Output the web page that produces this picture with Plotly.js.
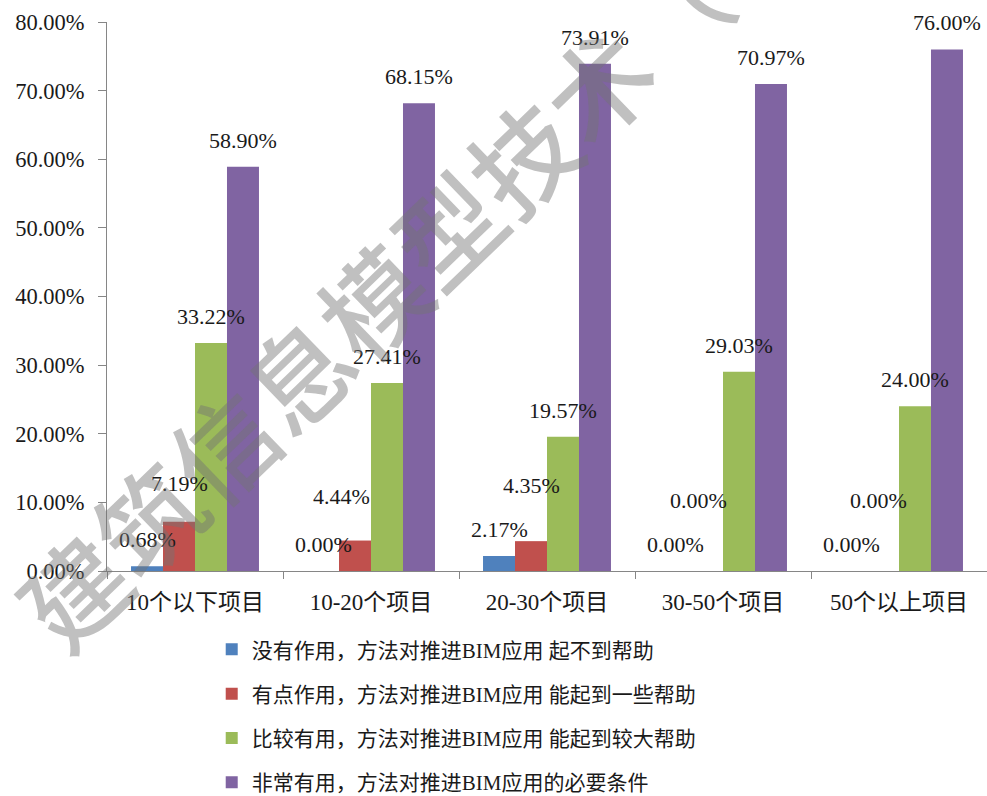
<!DOCTYPE html>
<html>
<head>
<meta charset="utf-8">
<script src="https://cdn.plot.ly/plotly-3.0.1.min.js"></script>
<style>html,body{margin:0;padding:0;background:#fff;}#chart{width:987px;height:796px;}</style>
</head>
<body>
<div id="chart"></div>
<script>
// ---- data ----
const categories = ['10个以下项目', '10-20个项目', '20-30个项目', '30-50个项目', '50个以上项目'];
const seriesNames = [
  '没有作用，方法对推进BIM应用 起不到帮助',
  '有点作用，方法对推进BIM应用 能起到一些帮助',
  '比较有用，方法对推进BIM应用 能起到较大帮助',
  '非常有用，方法对推进BIM应用的必要条件'
];
const noHelp    = [0.68, 0.00, 2.17, 0.00, 0.00];
const someHelp  = [7.19, 4.44, 4.35, 0.00, 0.00];
const muchHelp  = [33.22, 27.41, 19.57, 29.03, 24.00];
const essential = [58.90, 68.15, 73.91, 70.97, 76.00];
const yTickVals = [0, 10, 20, 30, 40, 50, 60, 70, 80];
const yTickText = ['0.00%', '10.00%', '20.00%', '30.00%', '40.00%', '50.00%', '60.00%', '70.00%', '80.00%'];
const watermarkText = '建筑信息模型技术（';

// ---- styles ----
const colors = ['#4F81BD', '#C0504D', '#9BBB59', '#8064A2'];
const bargap = 0.273;
const baseLabelShift = 12;
// extra label nudges (px) as placed in the original chart, per series per category
const labelYNudge = [[0,0,0,0,0],[12,18,29,44,44],[0,0,0,0,0],[0,0,0,0,0]];
const labelXNudge = [[0,0,0,0,0],[0,-14,0,-9,-5],[0,0,0,0,0],[0,0,0,0,0]];
const latinCjk = '"Liberation Serif", "Times New Roman", "Noto Sans CJK SC", serif';

const allSeries = [noHelp, someHelp, muchHelp, essential];

const traces = allSeries.map((vals, i) => ({
  type: 'bar',
  name: seriesNames[i],
  legendgroup: 'g' + i,
  x: categories,
  y: vals,
  marker: {color: colors[i]},
  hoverinfo: 'skip'
}));

const nSer = allSeries.length;
const barW = (1 - bargap) / nSer;
const annotations = [];
allSeries.forEach((vals, i) => {
  vals.forEach((v, j) => {
    annotations.push({
      xref: 'x', yref: 'y',
      x: j - (1 - bargap) / 2 + barW * (i + 0.5),
      y: v,
      text: v.toFixed(2) + '%',
      showarrow: false,
      xanchor: 'center', yanchor: 'bottom',
      yshift: baseLabelShift + labelYNudge[i][j],
      xshift: labelXNudge[i][j],
      font: {family: latinCjk, size: 22, color: '#1a1a1a'}
    });
  });
});
annotations.push({
  xref: 'paper', yref: 'paper',
  x: 0.300, y: 0.494,
  xanchor: 'center', yanchor: 'middle',
  text: watermarkText,
  textangle: -44,
  showarrow: false,
  font: {family: '"Noto Sans CJK SC", sans-serif', size: 104, weight: 500, color: 'rgba(115,115,115,0.45)'}
});

const layout = {
  width: 987, height: 796,
  margin: {l: 107, r: 0, t: 22, b: 225, pad: 0, autoexpand: false},
  paper_bgcolor: '#ffffff', plot_bgcolor: '#ffffff',
  barmode: 'group',
  bargap: bargap,
  bargroupgap: 0,
  showlegend: true,
  legend: {
    orientation: 'v',
    x: 0.119, xanchor: 'left',
    y: -0.106, yanchor: 'top',
    traceorder: 'grouped',
    tracegroupgap: 14,
    font: {family: latinCjk, size: 21, color: '#1a1a1a'},
    bgcolor: 'rgba(0,0,0,0)'
  },
  xaxis: {
    type: 'category',
    showgrid: false,
    showline: true, linecolor: '#868686', linewidth: 1,
    ticks: 'outside', tickson: 'boundaries', ticklen: 7, tickcolor: '#868686',
    ticklabelstandoff: 10,
    tickfont: {family: latinCjk, size: 23, color: '#1a1a1a'},
    zeroline: false, fixedrange: true
  },
  yaxis: {
    range: [0, 80],
    tickmode: 'array',
    tickvals: yTickVals,
    ticktext: yTickText,
    showgrid: false, zeroline: false,
    showline: true, linecolor: '#868686', linewidth: 1,
    ticks: 'outside', ticklen: 8, tickcolor: '#868686',
    ticklabelstandoff: 9,
    tickfont: {family: latinCjk, size: 22.5, color: '#1a1a1a'},
    fixedrange: true
  },
  annotations: annotations
};

Plotly.newPlot('chart', traces, layout, {displayModeBar: false, staticPlot: true});
</script>
</body>
</html>
